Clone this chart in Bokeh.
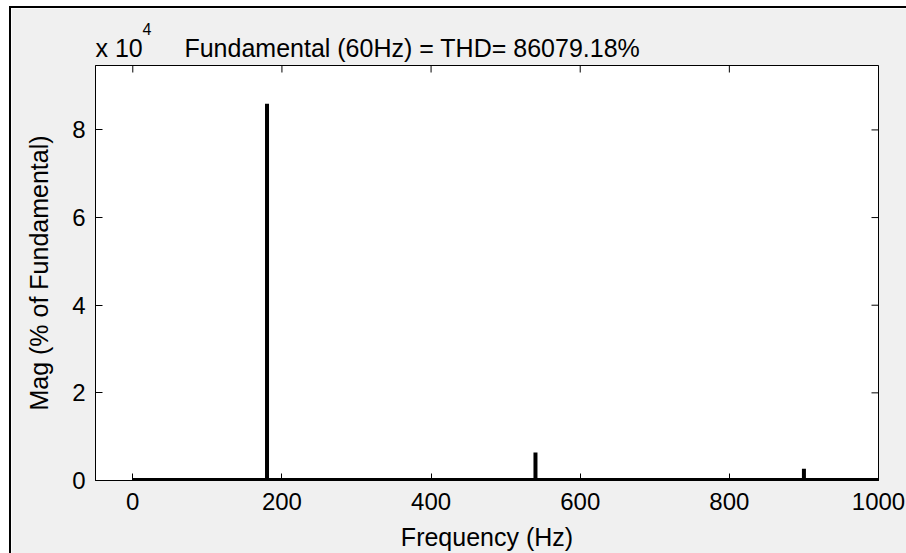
import math
from bokeh.plotting import figure
from bokeh.models import Range1d, FixedTicker, Title
from bokeh.embed import file_html
from bokeh.resources import INLINE

# ---- data ----
harmonic_freq = [180, 540, 900]          # Hz
harmonic_mag = [86000, 6400, 2700]       # % of fundamental
baseline_freq = [0, 1000]
baseline_mag = [0, 0]
x_ticks = [0, 200, 400, 600, 800, 1000]
y_ticks = [0, 20000, 40000, 60000, 80000]
y_tick_labels = ["0", "2", "4", "6", "8"]
exponent_base = "x 10"
exponent_power = "4"
title_text = "Fundamental (60Hz) = THD= 86079.18%"
x_label = "Frequency (Hz)"
y_label = "Mag (% of Fundamental)"
x_lim = (-50, 1000)
y_lim = (0, 94700)

FONT = "Liberation Sans"
FS = "24px"
BG = "#F0F0F0"

p = figure(frame_width=783, frame_height=415,
           min_border_left=84, min_border_top=57, min_border_right=28, min_border_bottom=73,
           x_range=Range1d(*x_lim), y_range=Range1d(*y_lim),
           output_backend="svg", toolbar_location=None)
p.styles = {"margin-left": "9px", "margin-top": "6px",
            "border-left": "2px solid black", "border-top": "2px solid black"}
p.background_fill_color = "white"
p.border_fill_color = BG
p.outline_line_color = "black"
p.outline_line_width = 1
p.xgrid.visible = False
p.ygrid.visible = False

def style_axis(ax):
    ax.major_tick_in = 7
    ax.major_tick_out = 0
    ax.minor_tick_in = 0
    ax.minor_tick_out = 0
    ax.axis_line_color = "black"
    ax.major_tick_line_color = "black"
    ax.major_label_text_font = FONT
    ax.major_label_text_font_size = FS
    ax.major_label_text_color = "black"
    ax.axis_label_text_font = FONT
    ax.axis_label_text_font_style = "normal"
    ax.axis_label_text_font_size = "25px"
    ax.axis_label_text_color = "black"

xb = p.xaxis[0]
xb.ticker = FixedTicker(ticks=x_ticks)
style_axis(xb)
xb.major_label_standoff = 12
xb.axis_label = x_label
xb.axis_label_standoff = 10

yl = p.yaxis[0]
yl.ticker = FixedTicker(ticks=y_ticks)
yl.major_label_overrides = {t: s for t, s in zip(y_ticks, y_tick_labels)}
style_axis(yl)
yl.major_label_standoff = 10
yl.axis_label = y_label
yl.axis_label_standoff = 16

# inward tick marks on the top and right edges of the box
p.scatter(x=x_ticks, y=[y_lim[1]] * len(x_ticks), marker="dash", size=14,
          angle=math.pi / 2, line_color="black", line_width=1)
p.scatter(x=[x_lim[1]] * len(y_ticks), y=y_ticks, marker="dash", size=14,
          line_color="black", line_width=1)

# baseline of the spectrum and harmonic bars
p.line(baseline_freq, baseline_mag, line_width=5, line_color="black")
p.segment(x0=harmonic_freq, y0=[0] * len(harmonic_freq), x1=harmonic_freq, y1=harmonic_mag,
          line_width=4, line_color="black", line_cap="butt")

# title line with the axis exponent
nbsp = "\u00a0" * 6
p.add_layout(Title(text=exponent_base + nbsp + title_text, align="left", offset=0,
                   text_font=FONT, text_font_size="25px", text_font_style="normal",
                   text_color="black", standoff=8), "above")
p.add_layout(Title(text=exponent_power, align="left", offset=47,
                   text_font=FONT, text_font_size="16px", text_font_style="normal",
                   text_color="black", standoff=-14), "above")

open("out.html", "w").write(file_html(p, INLINE))
